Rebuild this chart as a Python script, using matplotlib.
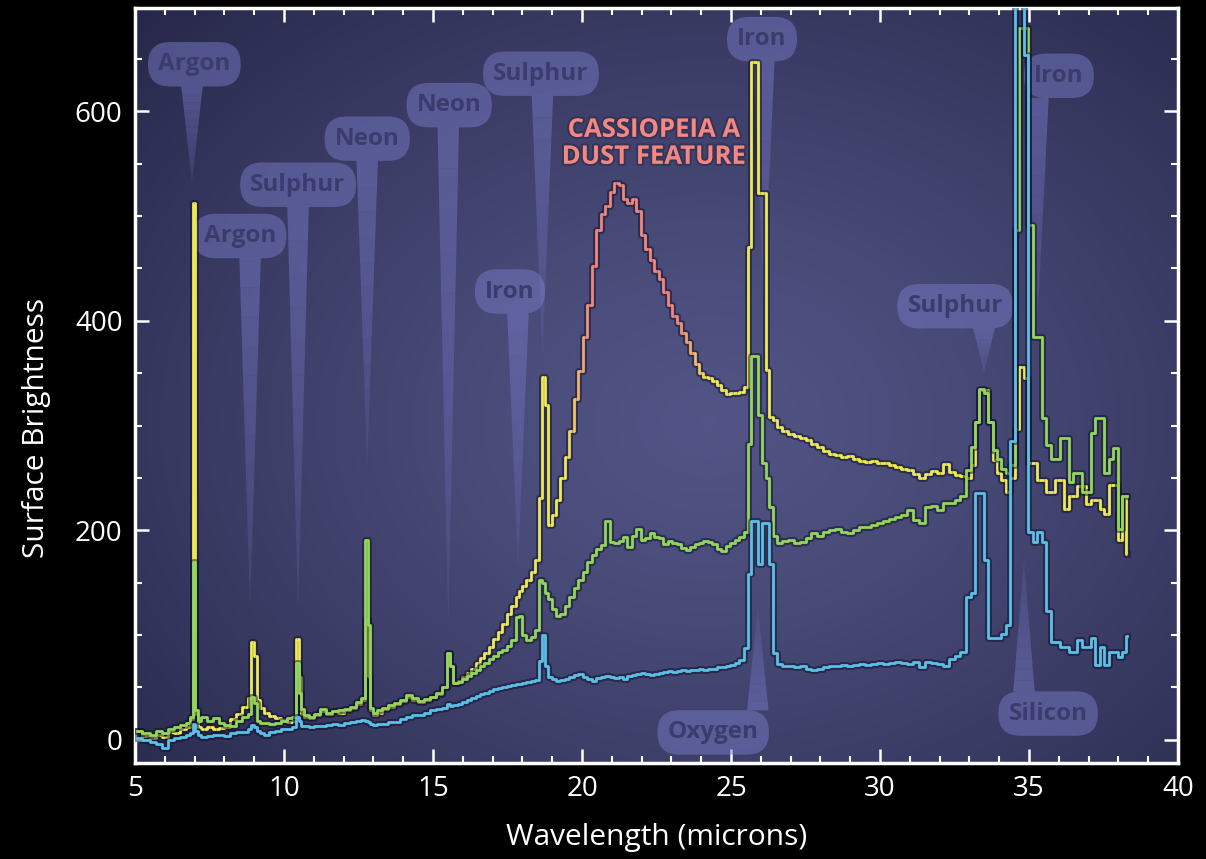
import numpy as np
import matplotlib
matplotlib.use('Agg')
import matplotlib.pyplot as plt
import matplotlib.patheffects as pe
from matplotlib.patches import Polygon
from matplotlib.ticker import MultipleLocator

plt.rcParams['font.family'] = ['Open Sans', 'DejaVu Sans']

# wavelength grid (microns), shared by the three spectra
wavelength = [
    5.05, 5.4, 5.6, 5.8, 6.0,   6.2, 6.4, 6.6, 6.8, 6.9,
    6.98, 7.06, 7.15, 7.3, 7.5,   7.7, 7.9, 8.1, 8.3, 8.5,
    8.7, 8.85, 8.95, 9.03, 9.12,   9.25, 9.4, 9.6, 9.8, 10.0,
    10.2, 10.35, 10.45, 10.53, 10.62,   10.75, 10.9, 11.1, 11.3, 11.5,
    11.7, 11.9, 12.1, 12.3, 12.5,   12.65, 12.77, 12.83, 12.92, 13.05,
    13.2, 13.4, 13.6, 13.8, 14.0,   14.2, 14.4, 14.6, 14.8, 15.0,
    15.2, 15.4, 15.52, 15.62, 15.75,
    15.9, 16.05, 16.2, 16.35, 16.5,   16.65, 16.8, 16.95, 17.1, 17.25,
    17.4, 17.55, 17.7, 17.85, 17.95,   18.05, 18.2, 18.35, 18.5, 18.62,
    18.72, 18.82, 18.92, 19.05, 19.2,   19.35, 19.5, 19.65, 19.8, 19.95,
    20.1, 20.25, 20.4, 20.55, 20.7,   20.85, 21.0, 21.15, 21.3, 21.45,
    21.6, 21.75, 21.9, 22.05, 22.2,   22.35, 22.5, 22.65, 22.8, 22.95,
    23.1, 23.25, 23.4, 23.55, 23.7,   23.85, 24.0, 24.15, 24.3, 24.45,
    24.6, 24.75, 24.9, 25.05, 25.2,   25.35,
    25.5, 25.62, 25.74, 25.86, 25.98,   26.1, 26.22, 26.34, 26.46, 26.6,
    26.8, 27.0, 27.2, 27.4, 27.6,   27.8, 28.0, 28.2, 28.4, 28.6,
    28.8, 29.0, 29.2, 29.4, 29.6,   29.8, 30.0, 30.2, 30.4, 30.6,
    30.8, 31.0, 31.2, 31.4, 31.6,   31.8, 32.0, 32.2, 32.4, 32.6,
    32.8, 33.0,
    33.1, 33.25, 33.4, 33.55, 33.7,   33.85, 34.0, 34.15, 34.3, 34.45,
    34.6, 34.75, 34.9, 35.05, 35.2,   35.35, 35.5, 35.65, 35.8, 35.95,
    36.1, 36.25, 36.4, 36.55, 36.7,   36.85, 37.0, 37.15, 37.3, 37.45,
    37.6, 37.75, 37.9, 38.05, 38.2,   38.3,
]

# yellow spectrum (with the dust feature)
yellow = [
    8, 4, 2, 5, 3,   7, 6, 10, 12, 20,
    513, 25, 12, 10, 12,   10, 11, 12, 20, 25,
    31, 40, 93, 80, 38,   30, 26, 23, 21, 19,
    17, 18, 96, 60, 25,   22, 21, 24, 27, 25,
    27, 26, 28, 30, 34,   38, 115, 60, 28, 24,
    26, 29, 31, 34, 37,   41, 38, 36, 38, 41,
    44, 50, 83, 70, 54,
    56, 60, 64, 68, 73,   78, 83, 89, 96, 103,
    111, 120, 128, 136, 142,   147, 153, 160, 172, 231,
    346, 320, 205, 215, 229,   250, 270, 295, 325, 352,
    385, 415, 452, 487, 502,   510, 523, 532, 530, 516,
    513, 516, 505, 482, 469,   458, 448, 440, 428, 415,
    405, 398, 388, 380, 369,   359, 350, 346, 345, 343,
    339, 334, 330, 331, 331,   332,
    337, 471, 647, 647, 522,   522, 353, 308, 305, 299,
    295, 292, 290, 288, 286,   282, 280, 276, 273, 272,
    270, 271, 268, 266, 265,   266, 264, 264, 262, 260,
    259, 258, 254, 250, 254,   257, 255, 263, 256, 253,
    252, 250,
    262, 303, 334, 334, 303,   267, 255, 248, 237, 250,
    297, 356, 345, 264, 264,   248, 248, 237, 237, 248,
    248, 220, 233, 233, 242,   242, 225, 229, 229, 220,
    216, 243, 243, 191, 233,   177,
]

green = [
    8, 6, 5, 8, 6,   10, 12, 14, 16, 22,
    170, 28, 18, 22, 18,   21, 16, 14, 13, 18,
    22, 25, 41, 35, 18,   16, 16, 15, 16, 18,
    21, 22, 73, 45, 29,   24, 22, 25, 29, 26,
    27, 28, 29, 31, 36,   40, 191, 110, 30, 26,
    28, 30, 33, 35, 38,   43, 40, 37, 39, 41,
    45, 50, 83, 70, 54,
    55, 58, 61, 64, 67,   70, 73, 77, 80, 84,
    86, 90, 95, 117, 118,   100, 95, 98, 105, 153,
    150, 140, 134, 125, 118,   120, 128, 136, 145, 153,
    160, 170, 176, 182, 186,   209, 189, 188, 190, 194,
    184, 195, 201, 191, 193,   197, 194, 193, 187, 190,
    188, 187, 183, 181, 184,   187, 188, 190, 189, 187,
    182, 180, 185, 188, 191,   194,
    198, 282, 366, 366, 310,   264, 250, 222, 195, 188,
    190, 191, 188, 189, 193,   197, 195, 198, 200, 201,
    198, 197, 200, 203, 203,   205, 207, 209, 211, 213,
    215, 219, 210, 207, 222,   223, 219, 226, 226, 229,
    233, 258,
    280, 303, 335, 331, 303,   277, 268, 259, 255, 262,
    487, 680, 680, 492, 385,   385, 307, 281, 268, 268,
    288, 288, 246, 255, 255,   237, 237, 293, 307, 307,
    255, 268, 279, 201, 233,   233,
]

blue = [
    2, 0, -2, -4, -8,   0, 2, 3, 5, 6,
    15, 8, 5, 3, 4,   5, 5, 4, 6, 7,
    7, 10, 14, 12, 8,   6, 5, 7, 8, 10,
    10, 12, 22, 18, 13,   13, 12, 13, 13, 14,
    15, 14, 16, 17, 18,   19, 18, 17, 15, 14,
    15, 15, 17, 17, 20,   22, 24, 24, 26, 28,
    29, 30, 34, 32, 33,
    34, 36, 38, 40, 42,   44, 45, 47, 48, 49,
    50, 51, 52, 53, 53,   54, 55, 56, 57, 75,
    100, 70, 60, 58, 56,   57, 58, 60, 62, 63,
    60, 58, 56, 59, 60,   61, 60, 59, 60, 58,
    61, 62, 63, 64, 63,   62, 63, 64, 65, 66,
    65, 66, 67, 66, 67,   67, 68, 67, 68, 68,
    69, 69, 70, 71, 73,   76,
    88, 158, 209, 209, 168,   207, 207, 168, 83, 72,
    70, 70, 69, 70, 68,   67, 68, 69, 70, 70,
    71, 70, 71, 72, 71,   72, 73, 72, 73, 74,
    73, 72, 74, 69, 74,   73, 72, 70, 77, 80,
    84, 136,
    140, 236, 236, 172, 97,   97, 97, 101, 110, 285,
    750, 750, 654, 198, 189,   198, 189, 123, 93, 93,
    89, 89, 84, 84, 95,   89, 89, 97, 71, 89,
    71, 84, 84, 79, 84,   99,
]

# line identifications: label, box x, box y, pointer x, tip x, tip y, points up
labels = [
    ('Argon', 6.99, 645, 6.91, 6.91, 532, False),
    ('Argon', 8.52, 481, 8.86, 8.86, 124, False),
    ('Sulphur', 10.47, 530, 10.47, 10.47, 124, False),
    ('Neon', 12.79, 574, 12.79, 12.79, 262, False),
    ('Neon', 15.54, 606, 15.51, 15.51, 112, False),
    ('Sulphur', 18.62, 636, 18.67, 18.67, 365, False),
    ('Iron', 17.58, 428, 17.85, 17.85, 165, False),
    ('Iron', 26.04, 669, 26.1, 26.1, 420, False),
    ('Iron', 36.0, 634, 35.3, 35.27, 391, False),
    ('Sulphur', 32.52, 414, 33.49, 33.49, 350, False),
    ('Oxygen', 24.4, 7, 25.9, 25.9, 127, True),
    ('Silicon', 35.64, 25, 34.83, 34.83, 172, True),
]

fig = plt.figure(figsize=(12.06, 8.59), dpi=100, facecolor='black')
ax = fig.add_axes([0.112, 0.112, 0.8648, 0.879])

# radial background glow
yy, xx = np.mgrid[0:1:300j, 0:1:400j]
r = np.clip(np.sqrt(((xx - 0.55) / 0.75) ** 2 + ((yy - 0.45) / 0.8) ** 2), 0, 1)
inner = np.array([0.32, 0.33, 0.52])
outer = np.array([0.15, 0.155, 0.29])
bg = inner + (outer - inner) * (r ** 1.3)[..., None]
ax.imshow(bg, extent=[0, 1, 0, 1], transform=ax.transAxes, aspect='auto',
          origin='lower', zorder=0)

box_rgb = (0.47, 0.48, 0.78)
for text, bx, by, px, tx, ty, up in labels:
    ax.text(bx, by, text, ha='center', va='center', fontsize=17.5, fontweight='bold',
            color='#3b3c6e', zorder=2,
            bbox=dict(boxstyle='round,pad=0.42,rounding_size=0.9',
                      fc=box_rgb + (0.5,), ec='none'))
    base = by + 21 if up else by - 21
    hw = 0.36
    n = 12
    for k in range(n):
        f0, f1 = k / n, (k + 1) / n
        y0, y1 = base + (ty - base) * f0, base + (ty - base) * f1
        x0, x1 = px + (tx - px) * f0, px + (tx - px) * f1
        w0, w1 = hw * (1 - f0), hw * (1 - f1)
        ax.add_patch(Polygon([(x0 - w0, y0), (x0 + w0, y0), (x1 + w1, y1), (x1 - w1, y1)],
                             closed=True, fc=box_rgb, ec='none',
                             alpha=0.5 * (1 - 0.75 * f0), zorder=1))

shadow = [pe.Stroke(linewidth=5, foreground='#10102a', alpha=0.5), pe.Normal()]

# yellow turns salmon across the dust feature; shadow drawn once underneath
ax.plot(wavelength, yellow, drawstyle='steps-mid', color='#10102a', lw=5, alpha=0.5, zorder=3)
c_yel = np.array(matplotlib.colors.to_rgb('#eeea55'))
c_red = np.array(matplotlib.colors.to_rgb('#f2857c'))
for i in range(len(wavelength) - 1):
    wm = 0.5 * (wavelength[i] + wavelength[i + 1])
    t = np.interp(wm, [19.4, 20.3, 23.2, 24.3], [0, 1, 1, 0])
    col = c_yel * (1 - t) + c_red * t
    ax.plot(wavelength[i:i + 2], yellow[i:i + 2], drawstyle='steps-mid', color=col,
            lw=2, zorder=3.5, solid_capstyle='butt')

ax.plot(wavelength, green, drawstyle='steps-mid', color='#94d65c', lw=2, zorder=4,
        path_effects=shadow)
ax.plot(wavelength, blue, drawstyle='steps-mid', color='#5cbfe6', lw=2, zorder=5,
        path_effects=shadow)

ax.text(22.42, 570, 'CASSIOPEIA A\nDUST FEATURE', ha='center', va='center',
        color='#f4877f', fontsize=18.5, fontweight='bold', linespacing=1.0, zorder=6,
        path_effects=[pe.withStroke(linewidth=3, foreground='#202040', alpha=0.4)])

ax.set_xlim(5, 40)
ax.set_ylim(-22, 699)
ax.xaxis.set_major_locator(MultipleLocator(5))
ax.xaxis.set_minor_locator(MultipleLocator(1))
ax.yaxis.set_major_locator(MultipleLocator(200))
ax.yaxis.set_minor_locator(MultipleLocator(50))
ax.tick_params(which='both', direction='in', colors='white', top=True, right=True,
               labelsize=20, pad=9)
ax.tick_params(which='major', length=10, width=1.8)
ax.tick_params(which='minor', length=5, width=1.5)
for s in ax.spines.values():
    s.set_color('white')
    s.set_linewidth(2.5)

ax.set_xlabel('Wavelength (microns)', fontsize=21.5, color='white')
ax.set_ylabel('Surface Brightness', fontsize=21.5, color='white')
ax.xaxis.set_label_coords(0.5, -0.08)
ax.yaxis.set_label_coords(-0.081, 0.444)

fig.savefig('out.png', dpi=100, facecolor='black')
